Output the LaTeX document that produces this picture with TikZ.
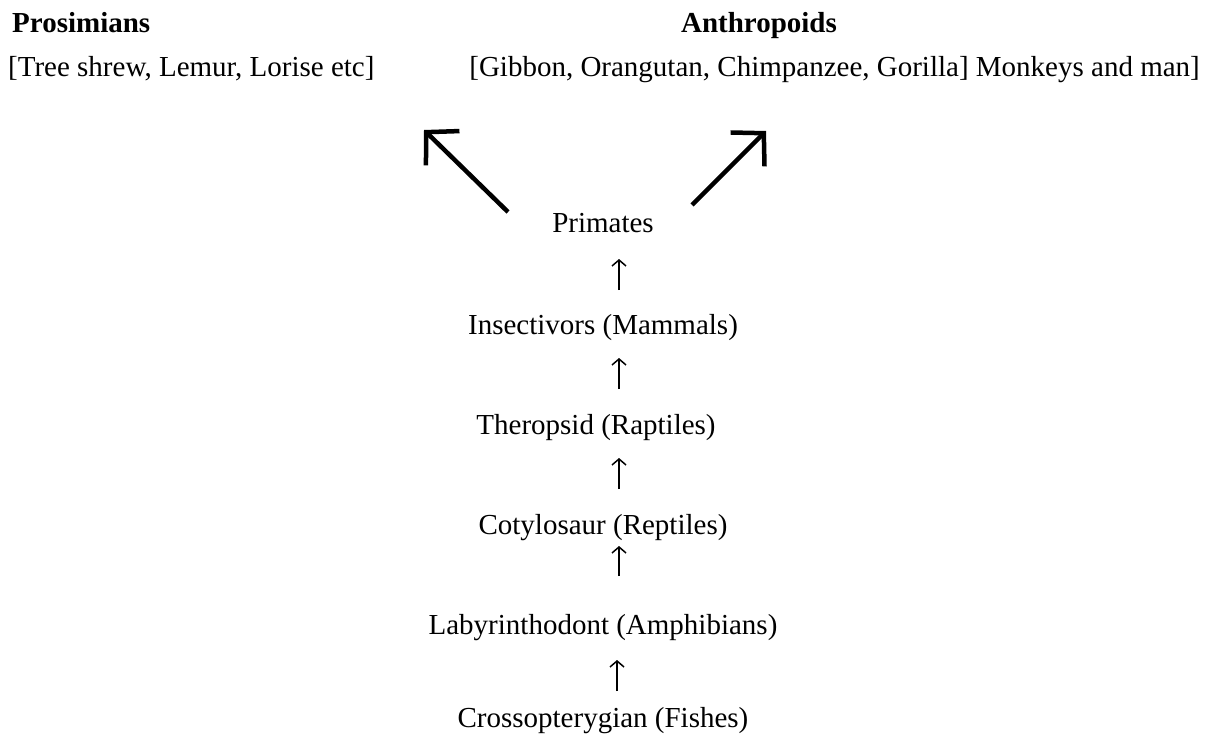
\documentclass[tikz,border=0pt]{standalone}
\usepackage{fontspec}
\setmainfont{Liberation Serif}
\usetikzlibrary{arrows.meta}
\begin{document}
\begin{tikzpicture}[x=1pt,y=-1pt,
  lbl/.style={inner sep=0pt, anchor=base, font=\fontsize{29}{34}\selectfont},
  hdr/.style={inner sep=0pt, anchor=base, font=\fontsize{29}{34}\selectfont\bfseries},
  bigarrow/.style={line width=4.5pt, -{Straight Barb[length=23pt,width=48pt,line width=4.5pt]}},
  smallarrow/.style={line width=1.5pt, -{Straight Barb[length=6pt,width=14pt,line width=1.5pt]}}
]
\useasboundingbox (0,0) rectangle (1207,738);
\node[hdr, anchor=base west] (pro) at (12,33) {Prosimians};
\node[hdr] (ant) at (759,33) {Anthropoids};
\node[lbl, anchor=base west] (prol) at (8,77) {[Tree shrew, Lemur, Lorise etc]};
\node[lbl, anchor=base east] (antl) at (1200,77) {[Gibbon, Orangutan, Chimpanzee, Gorilla] Monkeys and man]};

\node[lbl] (pri) at (603,233) {Primates};
\node[lbl] (ins) at (603,334) {Insectivors (Mammals)};
\node[lbl] (the) at (596,434) {Theropsid (Raptiles)};
\node[lbl] (cot) at (603,534) {Cotylosaur (Reptiles)};
\node[lbl] (lab) at (603,634) {Labyrinthodont (Amphibians)};
\node[lbl] (cro) at (603,727) {Crossopterygian (Fishes)};

\coordinate (l0) at (508,212); \coordinate (l1) at (424,130);
\coordinate (r0) at (692,205); \coordinate (r1) at (766,131);
\draw[bigarrow] (l0) -- (l1);
\draw[bigarrow] (r0) -- (r1);

\coordinate (a1s) at (619,290); \coordinate (a1e) at (619,259);
\coordinate (a2s) at (619,389); \coordinate (a2e) at (619,358);
\coordinate (a3s) at (619,489); \coordinate (a3e) at (619,458);
\coordinate (a4s) at (619,576); \coordinate (a4e) at (619,546);
\coordinate (a5s) at (617,691); \coordinate (a5e) at (617,660);
\foreach \i in {1,...,5} \draw[smallarrow] (a\i s) -- (a\i e);
\end{tikzpicture}
\end{document}
